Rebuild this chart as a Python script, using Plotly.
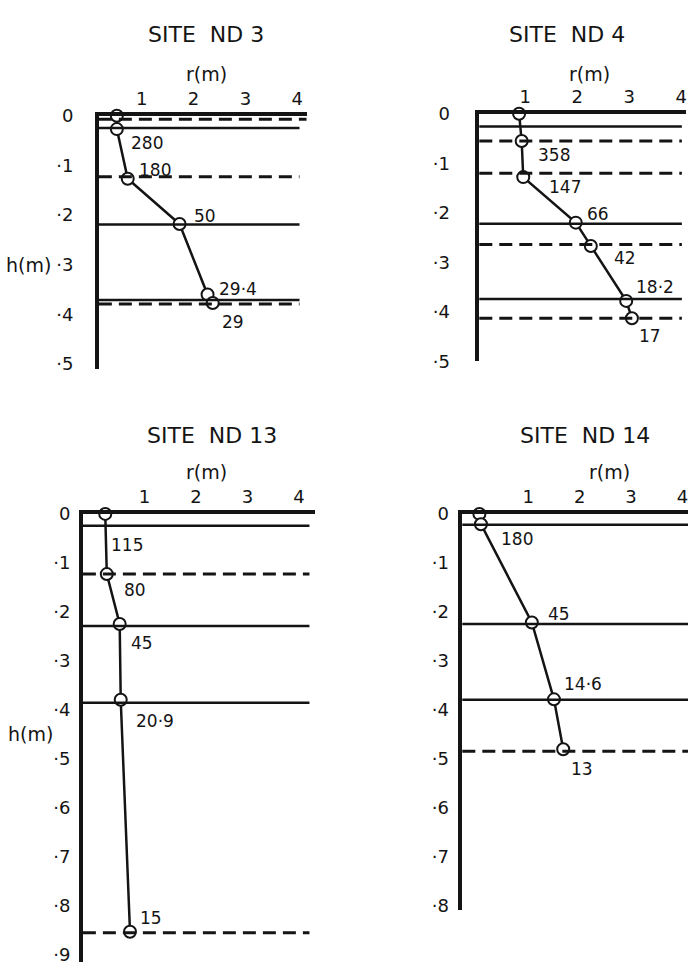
import plotly.graph_objects as go

W, H = 689, 974
INK = "#141414"
FONT = "DejaVu Sans"

# ---------------- data: apparent-resistivity sounding profiles ----------------
# r = electrode distance (m), h = depth (m); layer boundaries in depth (m)
nd3_r = [0.52, 0.52, 0.73, 1.73, 2.27, 2.37]
nd3_h = [0.0, 0.027, 0.127, 0.218, 0.36, 0.377]
nd3_solid = [0.025, 0.219, 0.371]
nd3_dashed = [0.007, 0.123, 0.379]
nd3_rho = ["280", "180", "50", "29·4", "29"]
nd3_rho_pt = [1, 2, 3, 4, 5]

nd4_r = [0.88, 0.93, 0.96, 1.97, 2.26, 2.94, 3.05]
nd4_h = [0.0, 0.055, 0.128, 0.22, 0.267, 0.378, 0.413]
nd4_solid = [0.026, 0.222, 0.374]
nd4_dashed = [0.055, 0.12, 0.264, 0.413]
nd4_rho = ["358", "147", "66", "42", "18·2", "17"]
nd4_rho_pt = [1, 2, 3, 4, 5, 6]

nd13_r = [0.24, 0.27, 0.52, 0.54, 0.72]
nd13_h = [0.0, 0.123, 0.225, 0.38, 0.854]
nd13_solid = [0.024, 0.229, 0.386]
nd13_dashed = [0.123, 0.856]
nd13_rho = ["115", "80", "45", "20·9", "15"]
nd13_rho_pt = [0, 1, 2, 3, 4]

nd14_r = [0.05, 0.08, 1.07, 1.50, 1.68]
nd14_h = [0.0, 0.021, 0.222, 0.379, 0.481]
nd14_solid = [0.022, 0.225, 0.38]
nd14_dashed = [0.485]
nd14_rho = ["180", "45", "14·6", "13"]
nd14_rho_pt = [1, 2, 3, 4]

r_ticks = [1, 2, 3, 4]
r_tick_text = ["1", "2", "3", "4"]

# ---------------- panel layout (pixel boxes and label placement) ----------------
panels = [
    dict(name="SITE  ND 3", r=nd3_r, h=nd3_h, solid=nd3_solid, dashed=nd3_dashed,
         rho=nd3_rho, rho_pt=nd3_rho_pt,
         rho_off=[(30, 14), (27, -9), (25, -8), (30, -6), (20, 19)],
         box=(99, 307, 107, 366), rrange=(0.173, 4.18), hmax=0.51, depth_ticks=6,
         line_end=0.966, title_xy=(206, 24), rlab_xy=(207, 64), hlab_xy=(29, 260),
         standoff=18),
    dict(name="SITE  ND 4", r=nd4_r, h=nd4_h, solid=nd4_solid, dashed=nd4_dashed,
         rho=nd4_rho, rho_pt=nd4_rho_pt,
         rho_off=[(32, 14), (42, 10), (22, -9), (34, 12), (29, -14), (18, 18)],
         box=(480, 687, 105, 358), rrange=(0.115, 4.09), hmax=0.5, depth_ticks=6,
         line_end=0.98, title_xy=(568, 24), rlab_xy=(590, 64), hlab_xy=None,
         standoff=22),
    dict(name="SITE  ND 13", r=nd13_r, h=nd13_h, solid=nd13_solid, dashed=nd13_dashed,
         rho=nd13_rho, rho_pt=nd13_rho_pt,
         rho_off=[(22, 31), (28, 16), (22, 19), (34, 21), (21, -14)],
         box=(83, 315, 514, 972), rrange=(-0.194, 4.30), hmax=0.916, depth_ticks=10,
         line_end=0.978, title_xy=(212, 434), rlab_xy=(207, 471), hlab_xy=(31, 739),
         standoff=5),
    dict(name="SITE  ND 14", r=nd14_r, h=nd14_h, solid=nd14_solid, dashed=nd14_dashed,
         rho=nd14_rho, rho_pt=nd14_rho_pt,
         rho_off=[(36, 15), (27, -9), (29, -15), (19, 20)],
         box=(463, 689, 514, 919), rrange=(-0.282, 4.107), hmax=0.81, depth_ticks=9,
         line_end=1.0, title_xy=(586, 434), rlab_xy=(610, 471), hlab_xy=None,
         standoff=6),
]

fig = go.Figure()
shapes, annotations = [], []


def px(x, y):
    return x / W, 1 - y / H


for i, p in enumerate(panels):
    k = "" if i == 0 else str(i + 1)
    xa, ya = "x" + k, "y" + k
    x0, x1, y0, y1 = p["box"]

    depth_vals = [j / 10 for j in range(p["depth_ticks"])]
    depth_text = ["0"] + ["·%d" % j for j in range(1, p["depth_ticks"])]

    fig.update_layout(**{
        "xaxis" + k: dict(
            domain=[x0 / W, x1 / W], range=list(p["rrange"]), side="top",
            anchor=ya, showline=True, linewidth=3.5, linecolor=INK,
            showgrid=False, zeroline=False, ticks="",
            tickvals=r_ticks, ticktext=r_tick_text,
            tickfont=dict(family=FONT, size=18, color=INK), ticklabelstandoff=0,
        ),
        "yaxis" + k: dict(
            domain=[1 - y1 / H, 1 - y0 / H], range=[p["hmax"], 0],
            anchor=xa, showline=True, linewidth=3.5, linecolor=INK,
            showgrid=False, zeroline=False, ticks="",
            tickvals=depth_vals, ticktext=depth_text,
            tickfont=dict(family=FONT, size=18, color=INK),
            ticklabelstandoff=p["standoff"],
        ),
    })

    # layer boundaries
    for hv in p["solid"]:
        shapes.append(dict(type="line", xref=xa + " domain", yref=ya,
                           x0=0, x1=p["line_end"], y0=hv, y1=hv,
                           line=dict(color=INK, width=2.5)))
    for hv in p["dashed"]:
        end = 1.0 if hv < 0.01 else p["line_end"]
        shapes.append(dict(type="line", xref=xa + " domain", yref=ya,
                           x0=0, x1=end, y0=hv, y1=hv,
                           line=dict(color=INK, width=3, dash="13px,7px")))

    # sounding profile
    fig.add_trace(go.Scatter(
        x=p["r"], y=p["h"], xaxis=xa, yaxis=ya, mode="lines+markers",
        line=dict(color=INK, width=2.5),
        marker=dict(symbol="circle", size=12, color="white",
                    line=dict(color=INK, width=2)),
        cliponaxis=False, showlegend=False, hoverinfo="skip",
    ))

    # resistivity labels
    for txt, idx, (dx, dy) in zip(p["rho"], p["rho_pt"], p["rho_off"]):
        annotations.append(dict(
            text=txt, xref=xa, yref=ya, x=p["r"][idx], y=p["h"][idx],
            xshift=dx, yshift=-dy, showarrow=False,
            xanchor="center", yanchor="middle",
            font=dict(family=FONT, size=17, color=INK)))

    # titles and axis names
    tx, ty = px(*p["title_xy"])
    annotations.append(dict(text=p["name"], xref="paper", yref="paper", x=tx, y=ty,
                            showarrow=False, xanchor="center", yanchor="middle",
                            font=dict(family=FONT, size=22, color=INK)))
    rx, ry = px(*p["rlab_xy"])
    annotations.append(dict(text="r(m)", xref="paper", yref="paper", x=rx, y=ry,
                            showarrow=False, xanchor="center", yanchor="middle",
                            font=dict(family=FONT, size=19, color=INK)))
    if p["hlab_xy"]:
        hx, hy = px(*p["hlab_xy"])
        annotations.append(dict(text="h(m)", xref="paper", yref="paper", x=hx, y=hy,
                                showarrow=False, xanchor="center", yanchor="middle",
                                font=dict(family=FONT, size=19, color=INK)))

fig.update_layout(
    width=W, height=H, margin=dict(l=0, r=0, t=0, b=0),
    paper_bgcolor="white", plot_bgcolor="white",
    shapes=shapes, annotations=annotations, showlegend=False,
)

fig.write_html("out.html")
